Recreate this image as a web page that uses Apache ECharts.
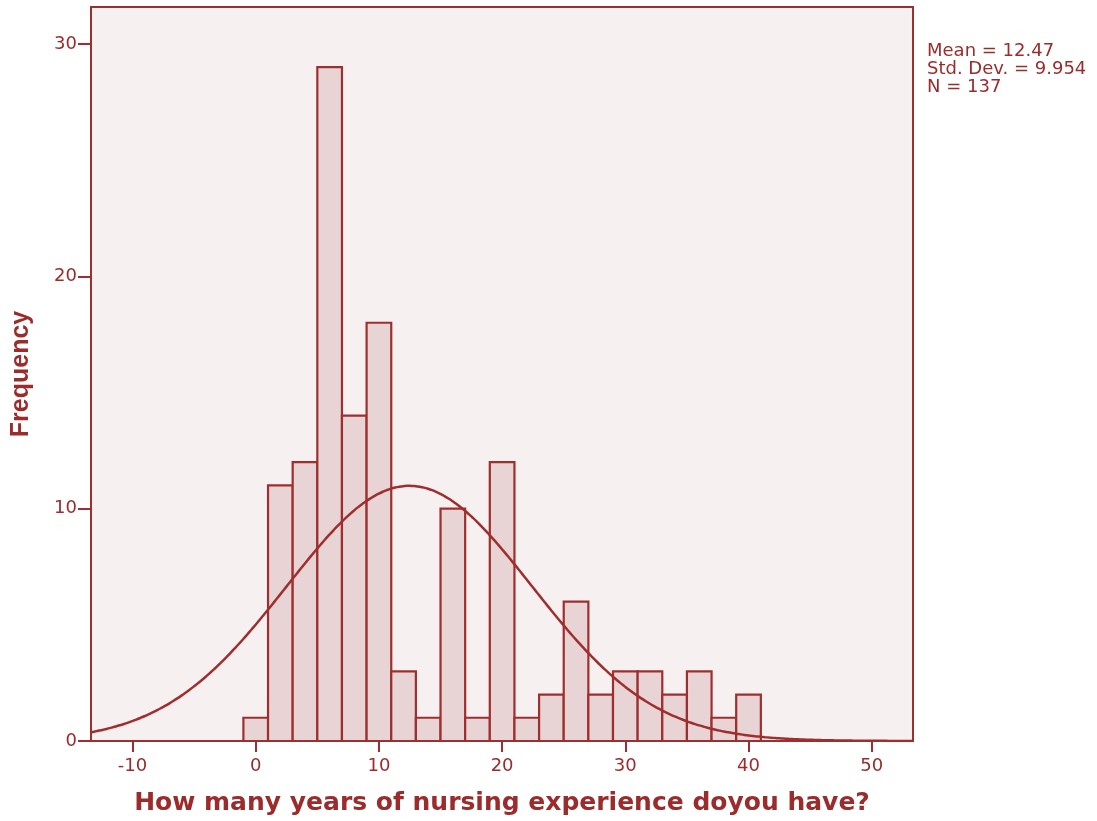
<!DOCTYPE html>
<html>
<head>
<meta charset="utf-8">
<script src="https://cdn.jsdelivr.net/npm/echarts@6/dist/echarts.min.js"></script>
<style>
html,body{margin:0;padding:0;background:#fff;}
#chart{width:1097px;height:821px;}
</style>
</head>
<body>
<div id="chart"></div>
<script>
// Histogram bins (centre of each 2-year bin) and frequencies
const binCenters = [0, 2, 4, 6, 8, 10, 12, 14, 16, 18, 20, 22, 24, 26, 28, 30, 32, 34, 36, 38, 40];
const counts     = [1, 11, 12, 29, 14, 18, 3, 1, 10, 1, 12, 1, 2, 6, 2, 3, 3, 2, 3, 1, 2];
const binWidth = 2;
// Summary statistics shown on the chart
const statMean = 12.47;
const statSD = 9.954;
const statN = 137;
// Tick labels
const xTicks = [-10, 0, 10, 20, 30, 40, 50];
const yTicks = [0, 10, 20, 30];
const xMin = -13.37, xMax = 53.35, yMax = 31.59;

const TXT = '#9c2b2b';
const LINE = '#9f2e2e';

const barData = binCenters.map((c, i) => [c - binWidth / 2, c + binWidth / 2, counts[i]]);

// Normal curve implied by the displayed Mean / Std. Dev. / N
const curve = [];
for (let k = 0; k <= 200; k++) {
  const x = xMin + (xMax - xMin) * k / 200;
  const z = (x - statMean) / statSD;
  curve.push([x, statN * binWidth / (statSD * Math.sqrt(2 * Math.PI)) * Math.exp(-0.5 * z * z)]);
}

const chart = echarts.init(document.getElementById('chart'), null, {renderer: 'canvas'});
chart.setOption({
  animation: false,
  backgroundColor: '#ffffff',
  grid: {left: 91, top: 7, right: 184, bottom: 78, show: true, backgroundColor: '#f7f0f0', borderColor: LINE, borderWidth: 2},
  xAxis: {
    type: 'value', min: xMin, max: xMax,
    name: 'How many years of nursing experience doyou have?',
    nameLocation: 'middle', nameGap: 50,
    nameTextStyle: {color: TXT, fontFamily: 'DejaVu Sans', fontWeight: 'bold', fontSize: 25},
    axisLine: {show: true, onZero: false, lineStyle: {color: LINE, width: 2}},
    axisTick: {show: true, inside: false, length: 11, customValues: xTicks, lineStyle: {color: LINE, width: 2}},
    axisLabel: {show: true, customValues: xTicks, margin: 16, color: TXT, fontFamily: 'DejaVu Sans', fontSize: 18},
    splitLine: {show: false}
  },
  yAxis: {
    type: 'value', min: 0, max: yMax,
    name: 'Frequency', nameLocation: 'middle', nameGap: 57, nameRotate: 90,
    nameTextStyle: {color: TXT, fontFamily: 'Liberation Sans', fontWeight: 'bold', fontSize: 25},
    axisLine: {show: true, onZero: false, lineStyle: {color: LINE, width: 2}},
    axisTick: {show: true, inside: false, length: 13, customValues: yTicks, lineStyle: {color: LINE, width: 2}},
    axisLabel: {show: true, customValues: yTicks, margin: 14, color: TXT, fontFamily: 'DejaVu Sans', fontSize: 18},
    splitLine: {show: false}
  },
  series: [
    {
      type: 'custom',
      data: barData,
      encode: {x: [0, 1], y: 2},
      renderItem: function (params, api) {
        const p0 = api.coord([api.value(0), api.value(2)]);
        const p1 = api.coord([api.value(1), 0]);
        return {
          type: 'rect',
          shape: {x: p0[0], y: p0[1], width: p1[0] - p0[0], height: p1[1] - p0[1]},
          style: {fill: '#e8d4d5', stroke: LINE, lineWidth: 2.2}
        };
      },
      z: 2
    },
    {
      type: 'line',
      data: curve,
      showSymbol: false,
      smooth: true,
      lineStyle: {color: LINE, width: 2.5},
      z: 3
    }
  ],
  graphic: [
    {
      type: 'text', left: 927, top: 42,
      style: {
        text: 'Mean = ' + statMean + '\nStd. Dev. = ' + statSD + '\nN = ' + statN,
        fill: TXT, font: '18px "DejaVu Sans"', lineHeight: 18
      }
    }
  ]
});
</script>
</body>
</html>
